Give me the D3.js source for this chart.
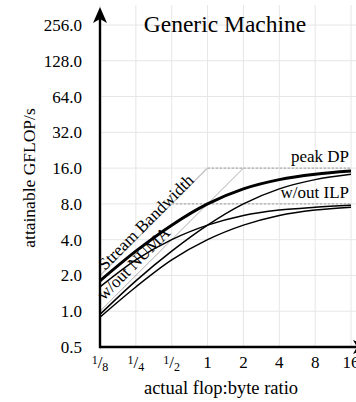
<!DOCTYPE html>
<html>
<head>
<meta charset="utf-8">
<script src="https://cdn.jsdelivr.net/npm/d3@7"></script>
<style>
  html, body { margin: 0; padding: 0; background: #fff; }
  svg { display: block; font-family: 'Liberation Serif', 'Times New Roman', serif; }
</style>
</head>
<body>
<div id="chart"></div>
<script>
// flop:byte ratios at the x ticks
const ratios = [1/8, 1/4, 1/2, 1, 2, 4, 8, 16];
const xTickLabels = [['1', '8'], ['1', '4'], ['1', '2'], '1', '2', '4', '8', '16'];
const yTicks = [0.5, 1, 2, 4, 8, 16, 32, 64, 128, 256];

// attainable GFLOP/s read at each ratio
const peakCurve = [1.8, 3.2, 5.3, 8.0, 10.7, 12.8, 14.2, 15.1];
const noIlpCurve = [1.6, 2.7, 4.0, 5.3, 6.4, 7.1, 7.5, 7.8];
const noNumaCurve = [0.94, 1.8, 3.2, 5.3, 8.0, 10.7, 12.8, 14.2];
const noBothCurve = [0.89, 1.6, 2.7, 4.0, 5.3, 6.4, 7.1, 7.5];

// roofs: flat ceilings and bandwidth diagonals
const roofValues = [16, 8];
const roofStarts = [1, 0.5];
const roofLabels = ['peak DP', 'w/out ILP'];
const bwLabels = ['Stream Bandwidth', 'w/out NUMA'];
const bwStartValues = [2, 1];   // at ratio 1/8
const bwEndRatios = [1, 2];     // where they hit 16 GFLOP/s

const width = 356, height = 402;
const svg = d3.select('#chart').append('svg')
  .attr('width', width)
  .attr('height', height);

const x = d3.scaleLog().base(2).domain([1/8, 16]).range([100, 351]);
const y = d3.scaleLog().base(2).domain([0.5, 256]).range([347, 25]);

// grid
svg.append('g').selectAll('line')
  .data(ratios)
  .enter().append('line')
  .attr('x1', d => x(d)).attr('x2', d => x(d))
  .attr('y1', 5).attr('y2', y(0.5))
  .attr('stroke', '#e6e6e6');
svg.append('g').selectAll('line')
  .data(yTicks.slice(1))
  .enter().append('line')
  .attr('x1', x(1/8)).attr('x2', width)
  .attr('y1', d => y(d)).attr('y2', d => y(d))
  .attr('stroke', '#e6e6e6');

// y tick labels
svg.append('g').selectAll('text')
  .data(yTicks)
  .enter().append('text')
  .attr('x', 82)
  .attr('y', d => y(d))
  .attr('dy', '0.35em')
  .attr('text-anchor', 'end')
  .attr('font-size', 17)
  .text(d => d3.format('.1f')(d));

// x tick labels, fractions drawn with raised/lowered digits
const xt = svg.append('g').selectAll('text')
  .data(ratios)
  .enter().append('text')
  .attr('x', d => x(d))
  .attr('y', 368)
  .attr('text-anchor', 'middle')
  .attr('font-size', 17);
xt.each(function(d, i) {
  const lab = xTickLabels[i];
  const t = d3.select(this);
  if (Array.isArray(lab)) {
    t.append('tspan').attr('font-size', 12).attr('dy', -4).text(lab[0]);
    t.append('tspan').attr('dy', 4).text('/');
    t.append('tspan').attr('font-size', 12).attr('dy', 3).text(lab[1]);
  } else {
    t.text(lab);
  }
});

// roof ceilings (dotted)
svg.append('g').selectAll('line')
  .data(roofValues)
  .enter().append('line')
  .attr('x1', (d, i) => x(roofStarts[i])).attr('x2', x(16))
  .attr('y1', d => y(d)).attr('y2', d => y(d))
  .attr('stroke', '#999')
  .attr('stroke-dasharray', '2.5,1.5');

// bandwidth diagonals
const bwColors = ['#c4c4c4', '#999'];
const bwWidths = [1.4, 0.8];
svg.append('g').selectAll('line')
  .data(bwStartValues)
  .enter().append('line')
  .attr('x1', x(1/8)).attr('y1', d => y(d))
  .attr('x2', (d, i) => x(bwEndRatios[i])).attr('y2', y(16))
  .attr('stroke', (d, i) => bwColors[i])
  .attr('stroke-width', (d, i) => bwWidths[i]);

// curves
const line = d3.line()
  .x((d, i) => x(ratios[i]))
  .y(d => y(d))
  .curve(d3.curveMonotoneX);
const curves = [noBothCurve, noNumaCurve, noIlpCurve, peakCurve];
const curveWidths = [1.5, 1.5, 1.5, 3];
svg.append('g').selectAll('path')
  .data(curves)
  .enter().append('path')
  .attr('d', line)
  .attr('fill', 'none')
  .attr('stroke', '#000')
  .attr('stroke-width', (d, i) => curveWidths[i]);

// labels along the bandwidth diagonals
const bwLabelStart = [[105, 271], [104, 301]];
svg.append('g').selectAll('text')
  .data(bwLabels)
  .enter().append('text')
  .attr('transform', (d, i) => 'translate(' + bwLabelStart[i][0] + ',' + bwLabelStart[i][1] + ') rotate(-45)')
  .attr('font-size', 17)
  .text(d => d);

// labels on the ceilings
svg.append('g').selectAll('text')
  .data(roofLabels)
  .enter().append('text')
  .attr('x', 349)
  .attr('y', (d, i) => y(roofValues[i]) - 6)
  .attr('text-anchor', 'end')
  .attr('font-size', 17)
  .text(d => d);

// axes with arrow heads
svg.append('line')
  .attr('x1', x(1/8)).attr('x2', 360)
  .attr('y1', y(0.5)).attr('y2', y(0.5))
  .attr('stroke', '#000').attr('stroke-width', 2.4);
svg.append('line')
  .attr('x1', x(1/8)).attr('x2', x(1/8))
  .attr('y1', y(0.5) + 1.2).attr('y2', 14)
  .attr('stroke', '#000').attr('stroke-width', 2.4);
const ax = x(1/8), ay = y(0.5);
svg.append('path')
  .attr('d', 'M' + ax + ',7 L' + (ax - 7) + ',23 L' + ax + ',19 L' + (ax + 7) + ',23 Z')
  .attr('fill', '#000');
svg.append('path')
  .attr('d', 'M369,' + ay + ' L353,' + (ay - 7) + ' L357,' + ay + ' L353,' + (ay + 7) + ' Z')
  .attr('fill', '#000');

// titles
svg.append('text')
  .attr('x', 225).attr('y', 32)
  .attr('text-anchor', 'middle')
  .attr('font-size', 23.5)
  .text('Generic Machine');
svg.append('text')
  .attr('x', 221).attr('y', 394)
  .attr('text-anchor', 'middle')
  .attr('font-size', 18.5)
  .text('actual flop:byte ratio');
svg.append('text')
  .attr('transform', 'translate(35,178) rotate(-90)')
  .attr('text-anchor', 'middle')
  .attr('font-size', 17.5)
  .text('attainable GFLOP/s');
</script>
</body>
</html>
